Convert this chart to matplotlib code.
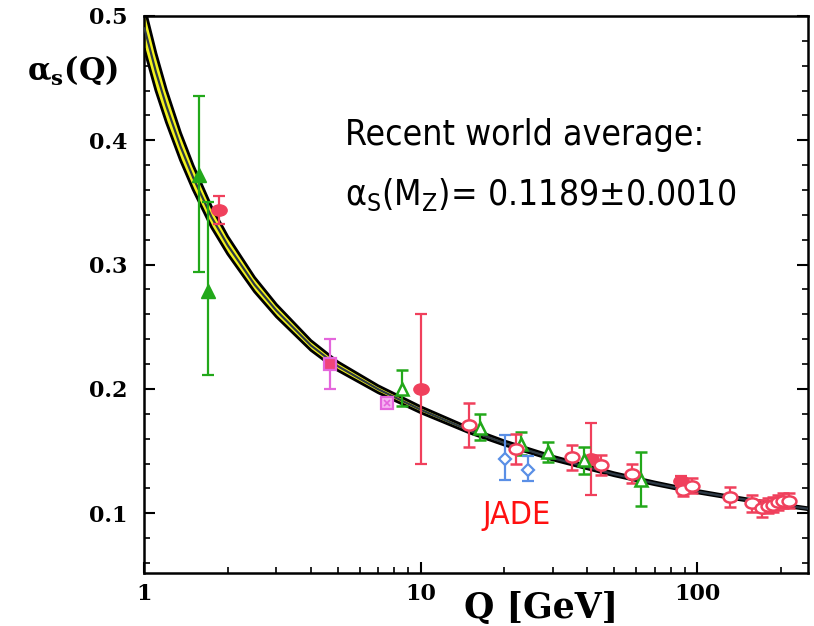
import numpy as np
import matplotlib
matplotlib.use("Agg")
import matplotlib.pyplot as plt
from matplotlib.path import Path
from matplotlib.transforms import Affine2D
from matplotlib.ticker import MultipleLocator, FixedLocator, FixedFormatter, NullFormatter

# running coupling band
curve_q = [1.0, 1.1, 1.2, 1.35, 1.5, 1.75, 2.0, 2.5, 3.0, 4.0, 5.0, 7.0, 10.0,
           15.0, 20.0, 30.0, 50.0, 70.0, 91.2, 130.0, 180.0, 255.0]
curve_a = [0.490, 0.455, 0.4275, 0.395, 0.370, 0.338, 0.3156, 0.284, 0.263, 0.235,
           0.2184, 0.1998, 0.1832, 0.1666, 0.1566, 0.1444, 0.1314, 0.1241, 0.1189,
           0.1131, 0.1082, 0.1035]
curve_d = [0.017, 0.015, 0.013, 0.011, 0.0097, 0.0081, 0.007, 0.0057, 0.0049, 0.0039,
           0.0034, 0.0028, 0.0024, 0.002, 0.0017, 0.0015, 0.0012, 0.0011, 0.001,
           0.0009, 0.00083, 0.00076]

# measurements
gf_q = [1.58, 1.70]
gf_a = [0.372, 0.279]
gf_lo = [0.078, 0.068]
gf_hi = [0.064, 0.071]

rf_q = [1.86, 10.0, 41.3, 87.5]
rf_a = [0.344, 0.200, 0.144, 0.126]
rf_e = [0.011, 0.060, 0.029, 0.004]

mf_q = [4.68]
mf_a = [0.220]
mf_e = [0.020]

mx_q = [7.52]
mx_a = [0.189]
mx_e = [0.003]

go_q = [8.53, 16.3, 23.0, 28.7, 39.0, 62.7]
go_a = [0.200, 0.169, 0.156, 0.149, 0.143, 0.127]
go_lo = [0.014, 0.010, 0.009, 0.008, 0.011, 0.021]
go_hi = [0.015, 0.011, 0.009, 0.008, 0.010, 0.022]

bo_q = [20.1, 24.4]
bo_a = [0.144, 0.135]
bo_lo = [0.017, 0.009]
bo_hi = [0.019, 0.011]

ro_q = [14.9, 22.0, 35.3, 44.7, 58.0, 89.0, 95.3, 131.0, 157.0, 171.0,
        180.0, 187.5, 195.5, 204.0, 214.0]
ro_a = [0.171, 0.152, 0.145, 0.139, 0.132, 0.119, 0.122, 0.113, 0.108, 0.104,
        0.106, 0.107, 0.109, 0.110, 0.110]
ro_e = [0.018, 0.012, 0.010, 0.008, 0.008, 0.005, 0.006, 0.008, 0.007, 0.007,
        0.006, 0.006, 0.006, 0.006, 0.006]

RED = "#f0405c"
GREEN = "#22a81a"
BLUE = "#5a8fe6"
MAG = "#e466dc"

ellipse = Affine2D().scale(1.35, 1.0).transform_path(Path.unit_circle())

fig = plt.figure(figsize=(8.14, 6.26), dpi=100)
ax = fig.add_axes([0.1775, 0.0847, 0.815, 0.8898])
ax.set_xscale("log")

cq = np.array(curve_q)
ca = np.array(curve_a)
cd = np.array(curve_d)
ax.fill_between(cq, ca - cd, ca + cd, color="#f2f21e", lw=0, zorder=2)
ax.plot(cq, ca + cd, color="black", lw=2.0, zorder=3)
ax.plot(cq, ca - cd, color="black", lw=2.0, zorder=3)
ax.plot(cq, ca, color="#2e3a46", lw=1.6, zorder=3)

eb = dict(capsize=4, capthick=1.6, elinewidth=1.6, linestyle="none", zorder=5)

ax.errorbar(gf_q, gf_a, yerr=[gf_lo, gf_hi], color=GREEN, marker="^", ms=10,
            mfc=GREEN, mec=GREEN, **eb)
ax.errorbar(rf_q, rf_a, yerr=rf_e, color=RED, marker=ellipse, ms=11,
            mfc=RED, mec=RED, **eb)
ax.errorbar(mf_q, mf_a, yerr=mf_e, color=MAG, marker="s", ms=8,
            mfc="#f0447a", mec=MAG, mew=1.6, **eb)
ax.errorbar(mx_q, mx_a, yerr=mx_e, color=MAG, marker="s", ms=8,
            mfc="#f6b4f2", mec=MAG, mew=1.6, **eb)
ax.plot(mx_q, mx_a, marker="x", ms=5, mew=1.2, color=MAG, ls="none", zorder=6)
ax.errorbar(go_q, go_a, yerr=[go_lo, go_hi], color=GREEN, marker="^", ms=9,
            mfc="white", mec=GREEN, mew=1.8, **eb)
ax.errorbar(bo_q, bo_a, yerr=[bo_lo, bo_hi], color=BLUE, marker="D", ms=6,
            mfc="white", mec=BLUE, mew=1.6, **eb)
ax.errorbar(ro_q, ro_a, yerr=ro_e, color=RED, marker=ellipse, ms=10,
            mfc="white", mec=RED, mew=1.8, **eb)

ax.set_xlim(1, 251)
ax.set_ylim(0.052, 0.5)

ax.xaxis.set_major_locator(FixedLocator([1, 10, 100]))
ax.xaxis.set_major_formatter(FixedFormatter(["1", "10", "100"]))
ax.xaxis.set_minor_formatter(NullFormatter())
ax.yaxis.set_major_locator(MultipleLocator(0.1))
ax.yaxis.set_minor_locator(MultipleLocator(0.02))
ax.yaxis.set_major_formatter(plt.FormatStrFormatter("%.1f"))

ax.tick_params(which="both", direction="in", right=True, top=False)
ax.tick_params(which="major", length=8, width=1.5)
ax.tick_params(which="minor", length=4, width=1.2)
ax.tick_params(axis="y", which="major", pad=12)
ax.tick_params(axis="x", which="major", pad=7)
for lab in ax.get_xticklabels() + ax.get_yticklabels():
    lab.set_family("DejaVu Serif")
    lab.set_weight("bold")
    lab.set_size(16)
for sp in ax.spines.values():
    sp.set_linewidth(1.8)

serif = dict(family="DejaVu Serif", weight="bold")
fig.text(541 / 814, 1 - 608 / 626, "Q [GeV]", ha="center", va="center", size=25, **serif)
fig.text(73 / 814, 1 - 71 / 626, r"α$_\mathregular{s}$(Q)", ha="center", va="center",
         size=22, **serif)

sans = dict(family="DejaVu Sans", stretch="condensed")
fig.text(345 / 814, 1 - 145 / 626, "Recent world average:", ha="left", va="baseline",
         size=25.5, **sans)
fig.text(345 / 814, 1 - 205 / 626, r"α$_\mathregular{S}$(M$_\mathregular{Z}$)= 0.1189±0.0010",
         ha="left", va="baseline", size=25.5, **sans)
fig.text(517 / 814, 1 - 524 / 626, "JADE", ha="center", va="baseline", size=23,
         color="#ff1010", **sans)

fig.savefig("out.png", dpi=100)
